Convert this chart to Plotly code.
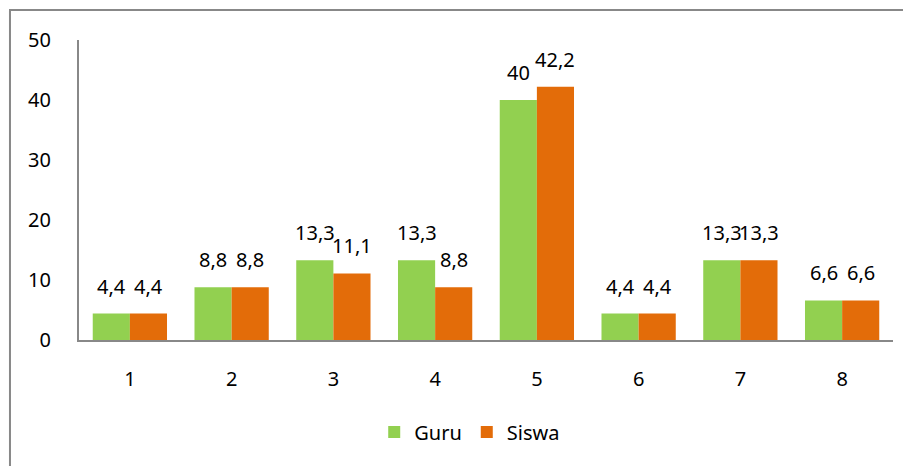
import plotly.graph_objects as go

categories = ["1", "2", "3", "4", "5", "6", "7", "8"]
guru = [4.4, 8.8, 13.3, 13.3, 40, 4.4, 13.3, 6.6]
siswa = [4.4, 8.8, 11.1, 8.8, 42.2, 4.4, 13.3, 6.6]
y_ticks = [0, 10, 20, 30, 40, 50]

def fmt(v):
    return ("%g" % v).replace(".", ",")

FONT = "Noto Sans, Open Sans, sans-serif"
GREEN = "#92D050"
ORANGE = "#E36C09"

W, H = 903, 458
ML, MR, MT, MB = 71, 18, 32, 126
BARGAP = 0.27
plot_w = W - ML - MR
bar_px = plot_w / len(categories) * (1 - BARGAP) / 2

fig = go.Figure()
fig.add_trace(go.Bar(x=categories, y=guru, name="Guru", marker_color=GREEN,
                     marker_line_width=0))
fig.add_trace(go.Bar(x=categories, y=siswa, name="Siswa", marker_color=ORANGE,
                     marker_line_width=0))

for vals, sh in ((guru, -bar_px / 2), (siswa, bar_px / 2)):
    for i, v in enumerate(vals):
        fig.add_annotation(x=i, y=v, xref="x", yref="y", text=fmt(v),
                           showarrow=False, xshift=sh, yshift=12,
                           yanchor="bottom", xanchor="center",
                           font=dict(size=20, color="black", family=FONT))

fig.update_layout(
    width=W, height=H,
    margin=dict(l=ML, r=MR, t=MT, b=MB),
    paper_bgcolor="white", plot_bgcolor="white",
    barmode="group", bargap=BARGAP, bargroupgap=0,
    font=dict(family=FONT, size=20, color="black"),
    showlegend=True,
    legend=dict(orientation="h", x=0.48, xanchor="center", y=-0.307, yanchor="middle",
                font=dict(size=20), traceorder="normal"),
    xaxis=dict(type="category", showline=True, linecolor="#888888", linewidth=2, ticks="",
               showgrid=False, tickfont=dict(size=20), ticklabelstandoff=20),
    yaxis=dict(range=[0, 50], tickvals=y_ticks, showline=True, linecolor="#888888",
               linewidth=2, ticks="", showgrid=False, zeroline=False,
               tickfont=dict(size=20), ticklabelstandoff=22),
)
fig.add_shape(type="rect", xref="paper", yref="paper",
              x0=-0.0848, x1=1.2, y0=-0.6, y1=1.1,
              line=dict(color="#888888", width=2), fillcolor="rgba(0,0,0,0)", layer="below")

fig.write_html("out.html")
